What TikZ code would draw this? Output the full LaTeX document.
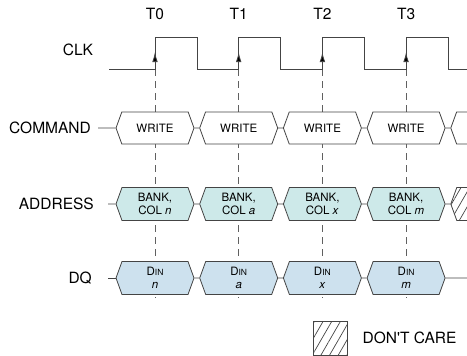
\documentclass[tikz,border=0pt]{standalone}
\usepackage{fontspec}
\setmainfont{TeX Gyre Heros}
\usepackage{tikz}
\usetikzlibrary{positioning}
\usetikzlibrary{arrows.meta,shapes.symbols,patterns.meta}

\definecolor{wiregray}{RGB}{68,68,68}
\definecolor{addrfill}{RGB}{205,233,233}
\definecolor{dqfill}{RGB}{205,225,238}

\begin{document}
\begin{tikzpicture}[x=1pt,y=1pt,>={Latex[length=10pt,width=5.5pt]},node distance=83.7pt,
        bus/.style={draw=wiregray,line width=0.8pt,shape=signal,signal to=east and west,
          signal pointer angle=140,minimum width=78pt,minimum height=33pt,inner sep=0pt,
          align=center,font=\fontsize{11.5}{13.5}\selectfont},
        cmd/.style={bus,fill=white,minimum height=32pt},
        addr/.style={bus,fill=addrfill},
        dq/.style={bus,fill=dqfill},
        hatch/.style={pattern={Lines[angle=60,distance=7.5pt,line width=0.7pt]},pattern color=wiregray},
        lbl/.style={anchor=east,inner sep=0pt,text height=10.5pt,text depth=0pt,font=\fontsize{15.5}{17}\selectfont},
        tlbl/.style={inner sep=0pt,font=\fontsize{15.5}{17}\selectfont},
        sig/.style={draw=wiregray,line width=0.8pt},
        guide/.style={draw=wiregray!85,line width=0.7pt,dash pattern=on 7pt off 5pt}]

  \useasboundingbox (0,0) rectangle (467,-356);

  % clock edges
  \node[tlbl] (t0) at (155,-14) {T0};
  \node[tlbl] (t1) [right of=t0] {T1};
  \node[tlbl] (t2) [right of=t1] {T2};
  \node[tlbl] (t3) [right of=t2] {T3};
  \node[tlbl] (clklbl) at (78,-50) {CLK};

  \foreach \i in {0,...,3}
    \draw[guide] (t\i |- 0,-69) -- (t\i |- 0,-298);

  \draw[sig] (109,-69) \foreach \i in {0,...,3} { -- (t\i |- 0,-69) -- (t\i |- 0,-37) -- ++(42,0) -- ++(0,-32) } -- (467,-69);
  \foreach \i in {0,...,3}
    \draw[sig,->,>={Latex[length=10pt,width=5.5pt,fill=black]}] (t\i |- 0,-69) -- (t\i |- 0,-52);

  % buses
  \node[lbl] (cmdlbl) at (91,-128) {COMMAND};
  \node[lbl] (addrlbl) at (94,-204) {ADDRESS};
  \node[lbl] (dqlbl) at (92,-278) {DQ};

  \node[cmd] (c0) at (155,-128) {WRITE};
  \node[cmd] (c1) [right of=c0] {WRITE};
  \node[cmd] (c2) [right of=c1] {WRITE};
  \node[cmd] (c3) [right of=c2] {WRITE};
  \node[cmd] (c4) [right of=c3] {};

  \node[addr] (a0) at (155,-204) {BANK,\\COL \textit{n}};
  \node[addr] (a1) [right of=a0] {BANK,\\COL \textit{a}};
  \node[addr] (a2) [right of=a1] {BANK,\\COL \textit{x}};
  \node[addr] (a3) [right of=a2] {BANK,\\COL \textit{m}};
  \node[bus,hatch] (a4) [right of=a3] {};

  \node[dq] (d0) at (155,-278) {D{\fontsize{8.5}{8.5}\selectfont IN}\\\textit{n}};
  \node[dq] (d1) [right of=d0] {D{\fontsize{8.5}{8.5}\selectfont IN}\\\textit{a}};
  \node[dq] (d2) [right of=d1] {D{\fontsize{8.5}{8.5}\selectfont IN}\\\textit{x}};
  \node[dq] (d3) [right of=d2] {D{\fontsize{8.5}{8.5}\selectfont IN}\\\textit{m}};
  \coordinate (dqend) at (467,-278);

  \draw[sig,shorten <=7pt] (cmdlbl) -- (c0);
  \draw[sig,shorten <=14pt] (addrlbl) -- (a0);
  \draw[sig,shorten <=16pt] (dqlbl) -- (d0);
  \foreach \i/\j in {0/1,1/2,2/3,3/4} {
    \draw[sig] (c\i) -- (c\j);
    \draw[sig] (a\i) -- (a\j);
  }
  \draw[sig] (d0) -- (d1);
  \draw[sig] (d1) -- (d2);
  \draw[sig] (d2) -- (d3);
  \draw[sig] (d3) -- (dqend);

  % legend
  \node[draw=wiregray,line width=0.8pt,hatch,minimum size=34pt,inner sep=0pt] (dcbox) at (330,-338) {};
  \node[tlbl,right=15pt of dcbox] (dclbl) {DON\textquotesingle T CARE};

\end{tikzpicture}
\end{document}
